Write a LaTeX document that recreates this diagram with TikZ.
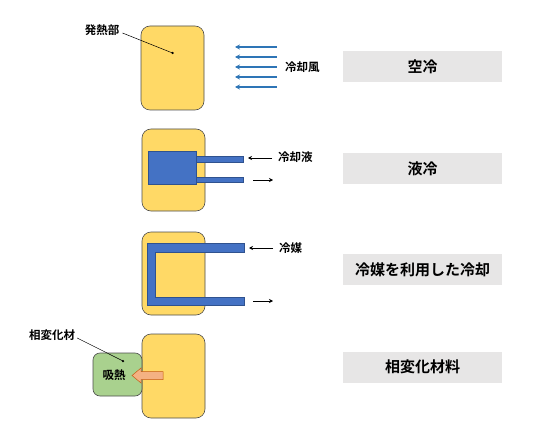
\documentclass[tikz,border=0pt]{standalone}
\usepackage{fontspec}
\newfontfamily\cjk{Noto Sans CJK JP}[BoldFont={* Bold}]
\usetikzlibrary{arrows.meta}
\definecolor{heat}{HTML}{FFD966}
\definecolor{cool}{HTML}{4472C4}
\definecolor{coolb}{HTML}{2F528F}
\definecolor{air}{HTML}{2E75B6}
\definecolor{pcm}{HTML}{A9D18E}
\definecolor{orng}{HTML}{F4B183}
\definecolor{orngb}{HTML}{C55A11}
\definecolor{labelbg}{HTML}{E7E6E6}
\tikzset{
  blk/.style={draw=black!70, fill=heat, rounded corners=9pt, line width=0.6pt},
  pipe/.style={draw=coolb, fill=cool, line width=0.5pt},
  tag/.style={fill=labelbg, minimum width=159pt, minimum height=31pt, inner sep=0pt, font=\cjk\bfseries\fontsize{15}{17}\selectfont},
  lbl/.style={font=\cjk\bfseries\fontsize{11.5}{13}\selectfont, inner sep=1pt},
  airarrow/.style={draw=air, line width=1.2pt, -{Stealth[length=5pt,width=5pt]}},
  flow/.style={draw=black, line width=0.6pt, -{Stealth[length=4pt,width=4pt]}},
  dotc/.style={circle, fill=black, inner sep=0pt, minimum size=2.5pt}
}
\begin{document}
\begin{tikzpicture}[x=1pt,y=-1pt]
\useasboundingbox (0,0) rectangle (538,441);
% ---- Panel 1: air cooling
\draw[blk] (141,26) rectangle (204,110);
\node[dotc] (d1) at (172.5,53) {};
\node[lbl] (l1) at (102,30) {発熱部};
\draw[line width=0.5pt] (l1.east) ++(2,3) coordinate (l1e) (l1e) -- (d1.center);
\foreach \y/\n in {47/a,57/b,67/c,77/d,87/e}{
  \coordinate (as\n) at (277,\y);
  \coordinate (ae\n) at (235,\y);
  \draw[airarrow] (as\n) -- (ae\n);
}
\node[lbl, anchor=west] (wind) at (284,67) {冷却風};
\node[tag] (t1) at (422.5,66.5) {空冷};
% ---- Panel 2: liquid cooling
\draw[blk] (142,129) rectangle (205,211);
\draw[pipe] (196,156.5) rectangle (243,162);
\draw[pipe] (196,177) rectangle (243,182.5);
\draw[pipe] (148,151) rectangle (196,184);
\node[lbl, anchor=west] (liq) at (277,157.5) {冷却液};
\coordinate (in2a) at (272,158);
\coordinate (in2b) at (248,158);
\draw[flow] (in2a) -- (in2b);
\coordinate (out2a) at (253,180);
\coordinate (out2b) at (273,180);
\draw[flow] (out2a) -- (out2b);
\node[tag] (t2) at (422.5,168.5) {液冷};
% ---- Panel 3: refrigerant
\draw[blk] (142,232) rectangle (205,315);
\draw[pipe] (244,243) -- (147,243) -- (147,305) -- (244,305) -- (244,297) -- (155,297) -- (155,252) -- (244,252) -- cycle;
\node[lbl, anchor=west] (ref) at (278,248) {冷媒};
\coordinate (in3a) at (273,248);
\coordinate (in3b) at (249,248);
\draw[flow] (in3a) -- (in3b);
\coordinate (out3a) at (253,301);
\coordinate (out3b) at (273,301);
\draw[flow] (out3a) -- (out3b);
\node[tag] (t3) at (422.5,269.5) {冷媒を利用した冷却};
% ---- Panel 4: phase change material
\draw[blk] (142,334) rectangle (205,418);
\draw[draw=black!70, fill=pcm, rounded corners=7pt, line width=0.6pt] (93,353) rectangle (142,396);
\node[lbl] (abs) at (114,375) {吸熱};
\draw[draw=orngb, fill=orng, line width=0.5pt, line join=miter]
  (163,371.5) -- (141,371.5) -- (141,368) -- (132,375.5) -- (141,383) -- (141,379.5) -- (163,379.5) -- cycle;
\node[dotc] (d4) at (123,361) {};
\node[lbl] (l4) at (52,335) {相変化材};
\draw[line width=0.5pt] (l4.east) ++(1,3) coordinate (l4e) (l4e) -- (d4.center);
\node[tag] (t4) at (422.5,367) {相変化材料};
\end{tikzpicture}
\end{document}
